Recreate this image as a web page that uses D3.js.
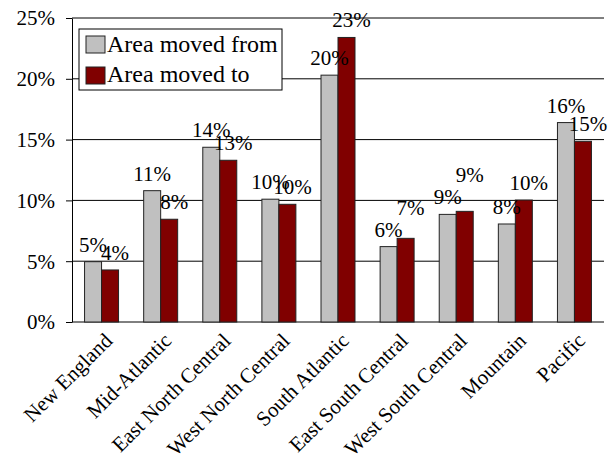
<!DOCTYPE html>
<html>
<head>
<meta charset="utf-8">
<script src="https://cdn.jsdelivr.net/npm/d3@7"></script>
</head>
<body style="margin:0;padding:0;background:#fff">
<svg id="chart" width="616" height="462" style="display:block"></svg>
<script>
// ---- data ----
const categories = ["New England", "Mid-Atlantic", "East North Central", "West North Central",
  "South Atlantic", "East South Central", "West South Central", "Mountain", "Pacific"];
const seriesNames = ["Area moved from", "Area moved to"];
const movedFrom = [0.0496, 0.108, 0.1437, 0.101, 0.203, 0.062, 0.0885, 0.0806, 0.164];
const movedTo   = [0.0428, 0.0845, 0.133, 0.0968, 0.234, 0.0688, 0.091, 0.1003, 0.1486];
const yTicks = [0, 0.05, 0.10, 0.15, 0.20, 0.25];

// ---- layout ----
const colors = ["#C0C0C0", "#800000"];
const M = { left: 72, right: 604, top: 18, bottom: 322 };
const FONT = '"Liberation Serif", "Times New Roman", serif';
const svg = d3.select("#chart");

function serif(sel, size) {
  sel.attr("font-family", "Liberation Serif")
    .style("font-family", FONT).style("font-size", size + "px").style("fill", "#000");
}

const x = d3.scaleBand().domain(categories).range([M.left, M.right])
  .paddingInner(0.425).paddingOuter(0.2125);
const xs = d3.scaleBand().domain([0, 1]).range([0, x.bandwidth()]);
const y = d3.scaleLinear().domain([0, 0.25]).range([M.bottom, M.top]);
const fmt = d3.format(".0%");

// gridlines
svg.append("g").selectAll("line").data(yTicks).join("line")
  .attr("x1", M.left).attr("x2", M.right)
  .attr("y1", d => y(d)).attr("y2", d => y(d))
  .attr("stroke", "#000").attr("stroke-width", 1);

// y axis
const yAxis = svg.append("g").attr("transform", `translate(${M.left},0)`)
  .call(d3.axisLeft(y).tickValues(yTicks).tickFormat(fmt).tickSize(6).tickSizeOuter(0).tickPadding(11));
yAxis.attr("font-family", "Liberation Serif");
yAxis.select(".domain").attr("stroke", "#000");
yAxis.selectAll(".tick line").attr("stroke", "#000");
yAxis.selectAll(".tick text").call(serif, 21).attr("dy", "0.33em");

// bars
const rows = categories.map((c, i) => ({ c, vals: [movedFrom[i], movedTo[i]] }));
const groups = svg.append("g").selectAll("g").data(rows).join("g")
  .attr("transform", d => `translate(${x(d.c)},0)`);
groups.selectAll("rect").data(d => d.vals.map((v, k) => ({ v, k }))).join("rect")
  .attr("x", d => xs(d.k)).attr("width", xs.bandwidth())
  .attr("y", d => y(d.v)).attr("height", d => M.bottom - y(d.v))
  .attr("fill", d => colors[d.k]).attr("stroke", "#222").attr("stroke-width", 1);

// data labels: outside end; a taller "moved to" label that would collide
// with its neighbour is lifted above it
const gap = 10, lineH = 16, lift = 22, toShift = 5;
function labelLayout(vals) {
  const base = vals.map(v => y(v) - gap);
  const out = base.slice();
  if (vals[1] > vals[0] && Math.abs(base[0] - base[1]) < lineH) {
    out[1] = Math.min(base[1], base[0] - lift);
  }
  return vals.map((v, k) => ({ v, k, ly: out[k] }));
}
groups.selectAll("text.lbl").data(d => labelLayout(d.vals)).join("text")
  .attr("class", "lbl")
  .attr("x", d => xs(d.k) + xs.bandwidth() / 2 + (d.k === 1 ? toShift : 0))
  .attr("y", d => d.ly)
  .attr("text-anchor", "middle")
  .call(serif, 21)
  .text(d => fmt(d.v));

// x axis labels
svg.append("g").selectAll("text").data(categories).join("text")
  .attr("transform", d => `translate(${x(d) + x.bandwidth() / 2 + 12},${M.bottom + 20}) rotate(-45)`)
  .attr("text-anchor", "end")
  .call(serif, 21)
  .text(d => d);

// legend
const lg = svg.append("g");
lg.append("rect").attr("x", 79).attr("y", 29).attr("width", 203).attr("height", 61)
  .attr("fill", "#fff").attr("stroke", "#000");
seriesNames.forEach((s, k) => {
  lg.append("rect").attr("x", 86).attr("y", 36 + k * 31).attr("width", 19).attr("height", 17)
    .attr("fill", colors[k]).attr("stroke", "#222");
  lg.append("text").attr("x", 107).attr("y", 52 + k * 30)
    .call(serif, 24)
    .text(s);
});
</script>
</body>
</html>
